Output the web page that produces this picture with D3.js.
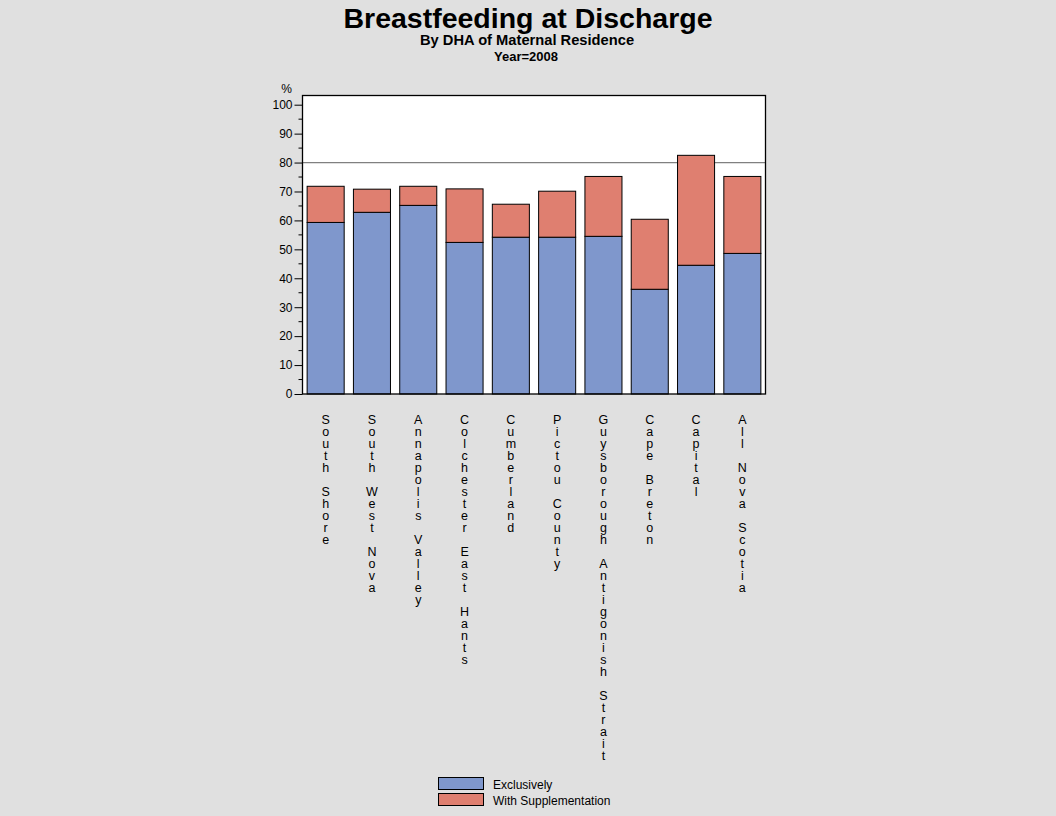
<!DOCTYPE html>
<html><head><meta charset="utf-8">
<script src="https://cdn.jsdelivr.net/npm/d3@7"></script>
<style>
html,body{margin:0;padding:0;background:#e0e0e0;}
text{font-family:"Liberation Sans",Arial,Helvetica,sans-serif;fill:#000;}
</style></head>
<body>
<svg id="chart" width="1056" height="816"></svg>
<script>
const categories = ["South Shore","South West Nova","Annapolis Valley","Colchester East Hants","Cumberland","Pictou County","Guysborough Antigonish Strait","Cape Breton","Capital","All Nova Scotia"];
const exclusively = [59.3, 62.8, 65.2, 52.4, 54.2, 54.2, 54.5, 36.2, 44.5, 48.6];
const total = [71.8, 70.8, 71.8, 70.9, 65.6, 70.1, 75.2, 60.4, 82.5, 75.2];
const supplementation = total.map((t,i)=>+(t-exclusively[i]).toFixed(1));
const seriesNames = ["Exclusively","With Supplementation"];
const seriesColors = ["#7f97cc","#df7f70"];
const yTicks = [0,10,20,30,40,50,60,70,80,90,100];
const referenceValue = 80;

const svg = d3.select("#chart");
svg.append("rect").attr("width",1056).attr("height",816).attr("fill","#e0e0e0");

const pLeft=302.5, pRight=765.5, pTop=95.5, pBottom=394;
const x = d3.scaleBand().domain(categories).range([pLeft,pRight]).paddingInner(0.2).paddingOuter(0.1);
const y = d3.scaleLinear().domain([0,100]).range([pBottom,104.7]);

// plot area
svg.append("rect").attr("x",pLeft).attr("y",pTop).attr("width",pRight-pLeft).attr("height",pBottom-pTop)
  .attr("fill","#fff");

// reference line
svg.append("line").attr("x1",pLeft).attr("x2",pRight).attr("y1",y(referenceValue)).attr("y2",y(referenceValue))
  .attr("stroke","#808080").attr("stroke-width",1.2);

// stacked bars
const data = categories.map((c,i)=>({cat:c, "Exclusively":exclusively[i], "With Supplementation":supplementation[i]}));
const stacked = d3.stack().keys(seriesNames)(data);
stacked.forEach((s,si)=>{
  svg.append("g").selectAll("rect").data(s).join("rect")
    .attr("x",d=>x(d.data.cat))
    .attr("width",x.bandwidth())
    .attr("y",d=>y(d[1]))
    .attr("height",d=>y(d[0])-y(d[1]))
    .attr("fill",seriesColors[si])
    .attr("stroke","#000").attr("stroke-width",1);
});

// frame
svg.append("rect").attr("x",pLeft).attr("y",pTop).attr("width",pRight-pLeft).attr("height",pBottom-pTop)
  .attr("fill","none").attr("stroke","#000").attr("stroke-width",1.3);

// y axis
const yAxis = d3.axisLeft(y).tickValues(yTicks).tickSize(8).tickPadding(2);
const gy = svg.append("g").attr("transform",`translate(${pLeft},0)`).call(yAxis);
gy.select(".domain").remove();
gy.selectAll("line").attr("stroke","#000");
gy.selectAll("text").attr("font-size","12px").attr("font-family","Liberation Sans, Arial, sans-serif").attr("fill","#000");
const minor = d3.range(5,100,10);
svg.append("g").selectAll("line").data(minor).join("line")
  .attr("x1",pLeft-4).attr("x2",pLeft).attr("y1",d=>y(d)).attr("y2",d=>y(d)).attr("stroke","#000");
svg.append("text").attr("x",292).attr("y",93).attr("text-anchor","end").attr("font-size","12px").text("%");

// x labels: vertical stacked characters
const xl = svg.append("g");
categories.forEach(c=>{
  const t = xl.append("text").attr("text-anchor","middle").attr("font-size","12.5px");
  c.split("").forEach((ch,i)=>{
    t.append("tspan").attr("x",x(c)+x.bandwidth()/2).attr("y",423.5+i*12).text(ch===" "?"\u00a0":ch);
  });
});

// titles
svg.append("text").attr("x",528).attr("y",27.5).attr("text-anchor","middle").attr("font-weight","bold").attr("font-size","28.5px").text("Breastfeeding at Discharge");
svg.append("text").attr("x",527).attr("y",45).attr("text-anchor","middle").attr("font-weight","bold").attr("font-size","14.7px").text("By DHA of Maternal Residence");
svg.append("text").attr("x",526).attr("y",61).attr("text-anchor","middle").attr("font-weight","bold").attr("font-size","13px").text("Year=2008");

// legend
const lg = svg.append("g");
seriesNames.forEach((n,i)=>{
  lg.append("rect").attr("x",438.5).attr("y",777.5+i*16).attr("width",45).attr("height",12)
    .attr("fill",seriesColors[i]).attr("stroke","#000").attr("stroke-width",1);
  lg.append("text").attr("x",493).attr("y",788.5+i*16).attr("font-size","12px").text(n);
});
</script>
</body></html>
